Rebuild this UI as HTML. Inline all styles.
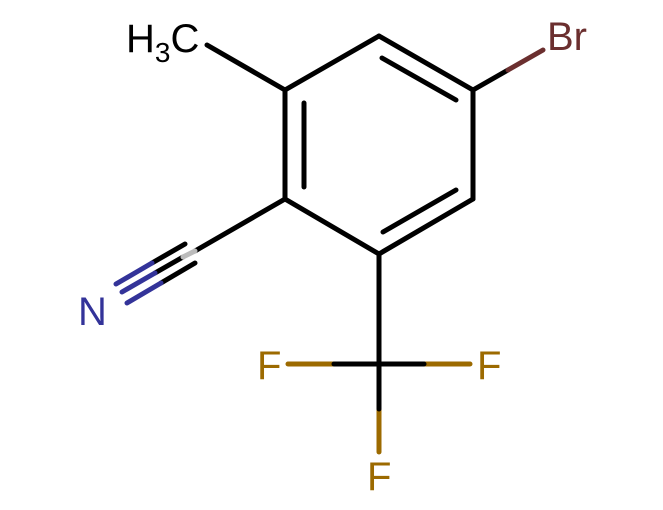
<!DOCTYPE html>
<html><head><style>body{margin:0;background:#fff}svg{display:block}</style></head><body>
<svg width="663" height="510" viewBox="0 0 663 510" xmlns="http://www.w3.org/2000/svg" stroke-width="5" stroke-linecap="round" fill="none">
<g stroke="#000">
<line x1="285" y1="90" x2="379" y2="36"/>
<line x1="379" y1="36" x2="473" y2="90"/>
<line x1="473" y1="90" x2="473" y2="199"/>
<line x1="473" y1="199" x2="379" y2="254"/>
<line x1="379" y1="254" x2="285" y2="199"/>
<line x1="285" y1="199" x2="285" y2="90"/>
<line x1="304" y1="103" x2="304" y2="187"/>
<line x1="382" y1="58" x2="456" y2="100"/>
<line x1="456" y1="190" x2="383" y2="232"/>
<line x1="285" y1="90" x2="207" y2="45"/>
<line x1="379" y1="254" x2="379" y2="364"/>
<line x1="285" y1="199" x2="195" y2="251"/>
<line x1="183" y1="257" x2="155" y2="273"/>
<line x1="185" y1="244" x2="152" y2="263"/>
<line x1="195" y1="263" x2="161" y2="283"/>
</g>
<line x1="195" y1="251" x2="183" y2="257" stroke="#bbb"/>
<g stroke="#333399">
<line x1="155" y1="273" x2="122" y2="292"/>
<line x1="152" y1="263" x2="116" y2="284"/>
<line x1="161" y1="283" x2="127" y2="303"/>
</g>
<line x1="473" y1="90" x2="508" y2="70" stroke="#000"/>
<line x1="508" y1="70" x2="543" y2="50" stroke="#6b2f2f"/>
<g stroke="#9c6a00">
<line x1="379" y1="364" x2="379" y2="364"/>
<line x1="334" y1="364" x2="288" y2="364"/>
<line x1="424" y1="364" x2="470" y2="364"/>
<line x1="379" y1="409" x2="379" y2="452"/>
</g>
<g stroke="#000">
<line x1="379" y1="364" x2="334" y2="364"/>
<line x1="379" y1="364" x2="424" y2="364"/>
<line x1="379" y1="364" x2="379" y2="409"/>
</g>
<g font-family="Liberation Sans, DejaVu Sans, sans-serif" font-size="40" stroke="none">
<text x="126" y="52" fill="#000">H<tspan font-size="28" dy="10">3</tspan><tspan dy="-10">C</tspan></text>
<text x="547" y="50" fill="#6b2f2f">Br</text>
<text x="78" y="325" fill="#333399">N</text>
<text x="257" y="379" fill="#9c6a00">F</text>
<text x="477" y="379" fill="#9c6a00">F</text>
<text x="367" y="490" fill="#9c6a00">F</text>
</g>
</svg>
</body></html>
